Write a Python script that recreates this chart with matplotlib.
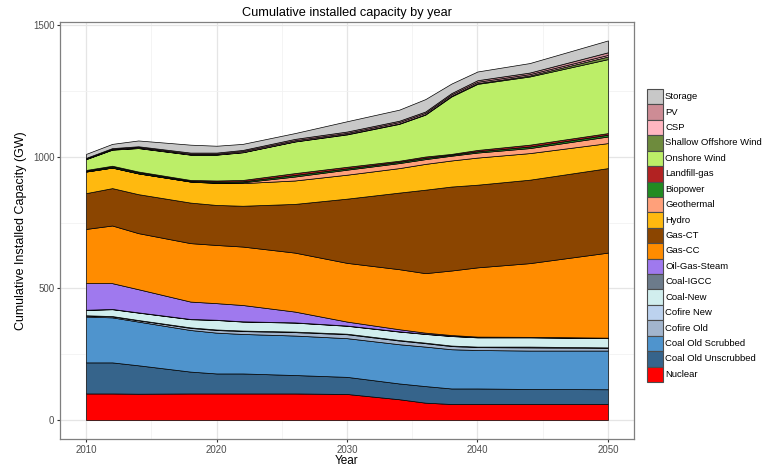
import matplotlib
matplotlib.use("Agg")
import matplotlib.pyplot as plt
from matplotlib.patches import Rectangle
import numpy as np

plt.rcParams["font.family"] = ["Liberation Sans", "DejaVu Sans"]

years = [2010, 2012, 2014, 2018, 2020, 2022, 2026, 2030, 2034, 2036, 2038, 2040, 2044, 2050]

# Installed capacity by technology (GW), stacked bottom to top
nuclear = [101, 101, 100, 101, 101, 101, 101, 99, 79, 66, 61, 61, 61, 61]
coal_old_unscrubbed = [118, 118, 108, 83, 76, 76, 70, 65, 60, 63, 59, 59, 57, 56]
coal_old_scrubbed = [174, 171, 166, 158, 155, 150, 150, 147, 149, 150, 149, 146, 146, 147]
cofire_old = [4, 4, 5, 8, 10, 11, 13, 15, 14, 13, 12, 11, 12, 10]
cofire_new = [1, 1, 1, 2, 2, 2, 2, 2, 2, 2, 2, 2, 3, 2]
coal_new = [20, 26, 28, 31, 36, 34, 34, 30, 32, 33, 36, 35, 35, 35]
coal_igcc = [1, 1, 1, 1, 1, 1, 1, 1, 1, 1, 1, 1, 1, 1]
oil_gas_steam = [101, 98, 88, 66, 63, 62, 41, 15, 8, 4, 3, 2, 1, 1]
gas_cc = [206, 219, 213, 222, 221, 222, 224, 223, 228, 226, 245, 263, 280, 323]
gas_ct = [136, 142, 148, 154, 152, 155, 185, 244, 291, 317, 319, 314, 317, 321]
hydro = [82, 78, 79, 80, 83, 86, 89, 91, 93, 98, 99, 103, 101, 95]
geothermal = [0, 0, 0, 0, 2, 3, 15, 19, 19, 18, 18, 19, 19, 25]
biopower = [3, 4, 4, 3, 4, 4, 6, 5, 5, 5, 4, 5, 6, 7]
landfill_gas = [3, 3, 3, 3, 4, 5, 7, 6, 4, 5, 3, 5, 7, 6]
onshore_wind = [41, 61, 89, 96, 98, 105, 120, 123, 140, 159, 218, 251, 259, 281]
shallow_offshore_wind = [1, 1, 1, 1, 1, 1, 1, 2, 2, 2, 3, 3, 4, 10]
csp = [2, 2, 3, 3, 3, 4, 4, 4, 5, 5, 5, 5, 5, 6]
pv = [2, 3, 3, 4, 4, 4, 5, 5, 5, 5, 5, 6, 6, 10]
storage = [15, 16, 22, 30, 26, 23, 22, 39, 42, 47, 36, 33, 36, 45]

technologies = [
    "Nuclear", "Coal Old Unscrubbed", "Coal Old Scrubbed", "Cofire Old",
    "Cofire New", "Coal-New", "Coal-IGCC", "Oil-Gas-Steam", "Gas-CC",
    "Gas-CT", "Hydro", "Geothermal", "Biopower", "Landfill-gas",
    "Onshore Wind", "Shallow Offshore Wind", "CSP", "PV", "Storage",
]
series = [
    nuclear, coal_old_unscrubbed, coal_old_scrubbed, cofire_old, cofire_new,
    coal_new, coal_igcc, oil_gas_steam, gas_cc, gas_ct, hydro, geothermal,
    biopower, landfill_gas, onshore_wind, shallow_offshore_wind, csp, pv,
    storage,
]
colors = [
    "#FF0000", "#36648B", "#4F94CD", "#A2B5CD", "#BCD2EE", "#D1EEEE",
    "#6C7B8B", "#9F79EE", "#FF8C00", "#8B4500", "#FFB90F", "#FFA07A",
    "#228B22", "#B22222", "#BCEE68", "#6E8B3D", "#FFB6C1", "#CD8C95",
    "#C8C8C8",
]

W, H = 767, 466
fig = plt.figure(figsize=(W / 100, H / 100), dpi=100)
ax = fig.add_axes([60 / W, 1 - 439 / H, (634 - 60) / W, (439 - 22) / H])

ax.stackplot(years, np.array(series, dtype=float), colors=colors,
             edgecolor="black", linewidth=0.5, zorder=3)

ax.set_xlim(2008, 2052)
ax.set_ylim(-72, 1512)
ax.set_xticks([2010, 2020, 2030, 2040, 2050])
ax.set_xticks([2015, 2025, 2035, 2045], minor=True)
ax.set_yticks([0, 500, 1000, 1500])
ax.set_yticks([250, 750, 1250], minor=True)
ax.grid(which="major", color="#E5E5E5", linewidth=0.9, zorder=0)
ax.grid(which="minor", color="#F2F2F2", linewidth=0.6, zorder=0)
ax.set_axisbelow(True)
for s in ax.spines.values():
    s.set_color("#7F7F7F")
    s.set_linewidth(0.9)
ax.tick_params(which="major", length=2.5, color="#333333", labelsize=7,
               labelcolor="#4D4D4D", pad=1.5)
ax.tick_params(which="minor", length=0)

ax.set_title("Cumulative installed capacity by year", fontsize=9.2, pad=4)
ax.set_xlabel("Year", fontsize=8.5, va="center")
ax.xaxis.set_label_coords(0.5, -(461 - 439) / (439 - 22))
ax.set_ylabel("Cumulative Installed Capacity (GW)", fontsize=9, labelpad=4)

# Legend: one keyed row per technology, top entry is the top layer
top, bottom = 89, 382
row = (bottom - top) / len(technologies)
lax = fig.add_axes([640 / W, 1 - bottom / H, (W - 640) / W, (bottom - top) / H])
lax.set_xlim(640, W)
lax.set_ylim(bottom, top)
lax.axis("off")
for i, (name, c) in enumerate(zip(technologies[::-1], colors[::-1])):
    y0 = top + i * row
    lax.add_patch(Rectangle((647, y0), 15.5, row, facecolor=c,
                            edgecolor="#4D4D4D", linewidth=0.8,
                            clip_on=False))
    lax.text(665, y0 + row / 2, name, fontsize=6.8, va="center",
             ha="left", color="black")

fig.savefig("out.png", dpi=100)
